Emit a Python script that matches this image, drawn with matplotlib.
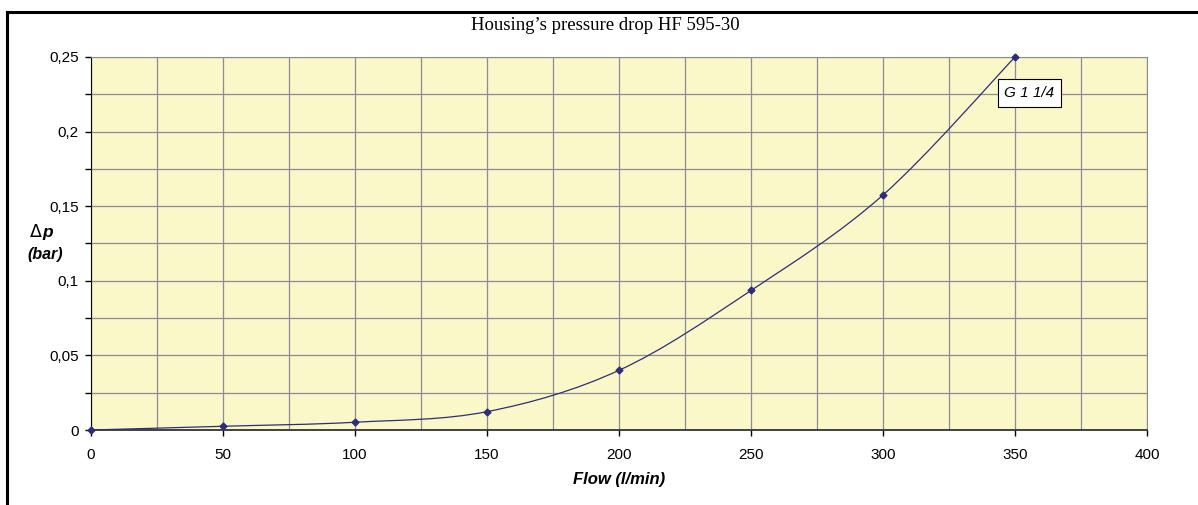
import numpy as np
import matplotlib.pyplot as plt
from matplotlib.path import Path
from matplotlib.patches import PathPatch
from matplotlib.ticker import MultipleLocator, FuncFormatter

flow = [0, 50, 100, 150, 200, 250, 300, 350]
dp = [0.0, 0.0025, 0.0052, 0.0123, 0.040, 0.0935, 0.1575, 0.25]
series_label = "G 1 1/4"
title = "Housing\u2019s pressure drop HF 595-30"

bg = '#faf7c9'
grid_c = '#8c8c96'
line_c = '#2e2e78'

fig = plt.figure(figsize=(11.98, 5.05), dpi=100)
ax = fig.add_axes([91/1198, 1-430/505, (1147-91)/1198, (430-57)/505])
ax.set_facecolor(bg)

# excel-like smoothed line: bezier segments through the points
pts = np.column_stack([flow, dp])
verts = [pts[0]]
codes = [Path.MOVETO]
n = len(pts)
for i in range(n-1):
    p0 = pts[max(i-1, 0)]
    p1 = pts[i]
    p2 = pts[i+1]
    p3 = pts[min(i+2, n-1)]
    c1 = p1 + (p2 - p0) / 6.0
    c2 = p2 - (p3 - p1) / 6.0
    verts += [c1, c2, p2]
    codes += [Path.CURVE4]*3
ax.add_patch(PathPatch(Path(verts, codes), fill=False, edgecolor=line_c, lw=0.9, zorder=3))
ax.plot(flow, dp, linestyle='', marker='D', markersize=3.5, color=line_c, zorder=4, clip_on=False)

ax.set_xlim(0, 400)
ax.set_ylim(0, 0.25)
ax.xaxis.set_major_locator(MultipleLocator(50))
ax.xaxis.set_minor_locator(MultipleLocator(25))
ax.yaxis.set_major_locator(MultipleLocator(0.05))
ax.yaxis.set_minor_locator(MultipleLocator(0.025))
ax.yaxis.set_major_formatter(FuncFormatter(lambda v, p: ('%g' % round(v, 3)).replace('.', ',')))
ax.grid(True, which='both', color=grid_c, lw=0.9)
ax.set_axisbelow(True)
ax.tick_params(axis='x', which='major', direction='out', length=4, width=1, labelsize=11, pad=9, color='black')
ax.tick_params(axis='x', which='minor', length=0)
ax.tick_params(axis='y', which='both', direction='out', length=4, width=1, labelsize=11, pad=5, color='black')
for lab in ax.get_xticklabels() + ax.get_yticklabels():
    lab.set_fontfamily('Liberation Sans')
for s in ['top', 'right']:
    ax.spines[s].set_color(grid_c)
ax.spines['left'].set_color('black')
ax.spines['bottom'].set_color('#333333')
ax.spines['bottom'].set_linewidth(1.3)

ax.set_xlabel("Flow (l/min)", fontfamily='Liberation Sans', fontsize=12, fontweight='bold', fontstyle='italic', labelpad=7)
fig.text(42/1198, 1-232/505, "\u0394", fontfamily='DejaVu Sans', fontsize=12.5, ha='right', va='center')
fig.text(42/1198, 1-232/505, "p", fontfamily='Liberation Sans', fontsize=12.5, fontweight='bold', fontstyle='italic', ha='left', va='center')
fig.text(45/1198, 1-255/505, "(bar)", fontfamily='Liberation Sans', fontsize=11.5, fontweight='bold', fontstyle='italic', ha='center', va='center')

fig.text(605/1198, 1-26/505, title, fontfamily='Liberation Serif', fontsize=13.5, ha='center', va='center')

ax.text(355.5, 0.2259, series_label, fontfamily='Liberation Sans', fontsize=11, fontstyle='italic', ha='center', va='center',
        bbox=dict(boxstyle='square,pad=0.45', fc='white', ec='black', lw=0.8), zorder=5)

# outer frame (left and top edges)
fig.add_artist(plt.Line2D([7/1198, 7/1198], [0, 1-12/505], color='black', lw=2.2, transform=fig.transFigure))
fig.add_artist(plt.Line2D([7/1198, 1], [1-12/505, 1-12/505], color='black', lw=2.2, transform=fig.transFigure))

fig.savefig('out.png', dpi=100)
